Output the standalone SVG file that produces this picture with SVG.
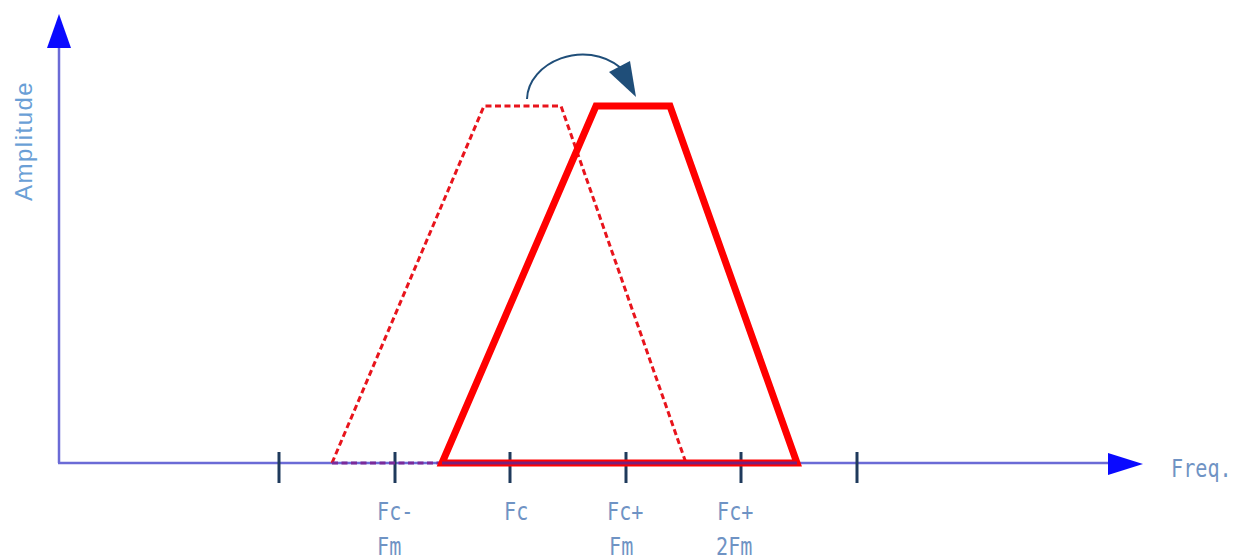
<svg xmlns="http://www.w3.org/2000/svg" width="1235" height="559" viewBox="0 0 1235 559">
<style>
.axis{stroke:#6b6bd6;stroke-width:2.5;fill:none}
.head{fill:#0a0aff}
.tick{stroke:#1f3a5c;stroke-width:3}
.lbl{font-family:"DejaVu Sans Mono","Liberation Mono",monospace;font-size:24px;fill:#6f93c4}
.amp{font-family:"Liberation Sans",Arial,sans-serif;font-size:24px;fill:#6a9fd6;letter-spacing:1.5px}
</style>
<rect width="1235" height="559" fill="#ffffff"/>
<g id="axes">
<line class="axis" x1="59" y1="463" x2="59" y2="46"/>
<line class="axis" x1="58" y1="463" x2="1110" y2="463"/>
<polygon class="head" points="59,14 47,48 71,48"/>
<polygon class="head" points="1143,464 1108,453 1108,475"/>
</g>
<g id="ticks">
<line class="tick" x1="279" y1="452" x2="279" y2="483"/>
<line class="tick" x1="395" y1="452" x2="395" y2="483"/>
<line class="tick" x1="510" y1="452" x2="510" y2="483"/>
<line class="tick" x1="626" y1="452" x2="626" y2="483"/>
<line class="tick" x1="741" y1="452" x2="741" y2="483"/>
<line class="tick" x1="857" y1="452" x2="857" y2="483"/>
</g>
<g id="original-band">
<polyline points="332,463 484,106 561,106 686,463" fill="none" stroke="#e8141c" stroke-width="3" stroke-dasharray="6,3.5"/>
<line x1="332" y1="463" x2="442" y2="463" stroke="#7a2a9a" stroke-width="3" stroke-dasharray="6,3.5"/>
</g>
<g id="shifted-band">
<polygon points="442,463 596,106 670,106 797,463" fill="none" stroke="#ff0000" stroke-width="7" stroke-linejoin="miter"/>
<line x1="442" y1="463" x2="797" y2="463" stroke="#7a1f7a" stroke-width="3"/>
</g>
<g id="connectors">
<path d="M527,99 C528,62 585,38 621,68" fill="none" stroke="#1f4e79" stroke-width="2"/>
<polygon points="609,72 630,61 636,97" fill="#1f4e79"/>
</g>
<g id="labels">
<text class="amp" transform="translate(32,201) rotate(-90)">Amplitude</text>
<text class="lbl" transform="translate(1171,477) scale(0.84,1)">Freq.</text>
<text class="lbl" transform="translate(377,520) scale(0.84,1)">Fc-</text>
<text class="lbl" transform="translate(377,555) scale(0.84,1)">Fm</text>
<text class="lbl" transform="translate(504,520) scale(0.84,1)">Fc</text>
<text class="lbl" transform="translate(607,520) scale(0.84,1)">Fc+</text>
<text class="lbl" transform="translate(609,555) scale(0.84,1)">Fm</text>
<text class="lbl" transform="translate(717,520) scale(0.84,1)">Fc+</text>
<text class="lbl" transform="translate(716,555) scale(0.84,1)">2Fm</text>
</g>
</svg>
